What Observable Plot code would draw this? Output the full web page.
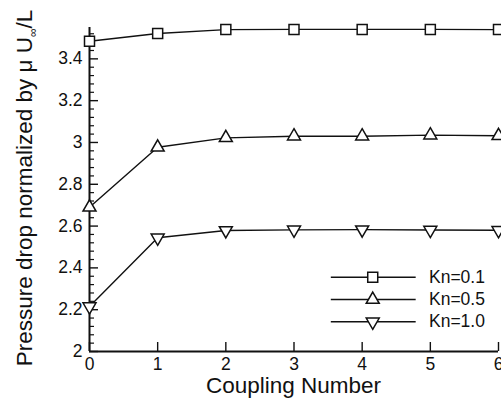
<!DOCTYPE html>
<html><head><meta charset="utf-8">
<script src="https://cdn.jsdelivr.net/npm/d3@7"></script>
<script src="https://cdn.jsdelivr.net/npm/@observablehq/plot@0.6"></script>
<style>
body{margin:0;background:#fff;}
#chart{position:relative;width:501px;height:400px;overflow:hidden;font-family:"Liberation Sans",Arial,Helvetica,sans-serif;}
</style>
</head><body><div id="chart"></div>
<script>
// ---- data ----
const coupling = [0, 1, 2, 3, 4, 5, 6];
const kn01 = [3.484, 3.521, 3.540, 3.541, 3.541, 3.541, 3.540];
const kn05 = [2.690, 2.977, 3.022, 3.030, 3.030, 3.035, 3.032];
const kn10 = [2.215, 2.544, 2.579, 2.582, 2.583, 2.581, 2.580];
const seriesNames = ["Kn=0.1", "Kn=0.5", "Kn=1.0"];
const xTicks = [0, 1, 2, 3, 4, 5, 6];
const yTicks = [2, 2.2, 2.4, 2.6, 2.8, 3, 3.2, 3.4];
const xLabel = "Coupling Number";

// ---- layout ----
const W = 501, H = 400, mL = 89, mR = 3, mT = 27, mB = 49;
const plotW = W - mL - mR, plotH = H - mT - mB;
const ink = "#111";

// open-marker symbols (sized from Plot's r)
const squareOpen = {
  draw(ctx, size) {
    const h = Math.sqrt(size) * 0.2821; // = r/2
    ctx.rect(-h, -h, 2 * h, 2 * h);
  }
};
const triangleUp = {
  draw(ctx, size) {
    const s = Math.sqrt(size) * 0.6824, t = s / 2, u = s * Math.sqrt(3) / 2;
    ctx.moveTo(0, -s); ctx.lineTo(u, t); ctx.lineTo(-u, t); ctx.closePath();
  }
};
const triangleDown = {
  draw(ctx, size) {
    const s = Math.sqrt(size) * 0.6824, t = s / 2, u = s * Math.sqrt(3) / 2;
    ctx.moveTo(0, s); ctx.lineTo(u, -t); ctx.lineTo(-u, -t); ctx.closePath();
  }
};
const symbols = [squareOpen, triangleUp, triangleDown];
const radii = [10, 6.2, 6.2];
const allSeries = [kn01, kn05, kn10];
const rows = allSeries.flatMap((vals, s) => coupling.map((c, i) => ({x: c, y: vals[i], s})));

const yMinor = d3.range(0, 39).map(k => +(2 + k * 0.04).toFixed(2)).filter(v => Math.abs(v * 5 - Math.round(v * 5)) > 1e-6);

// legend placement (data units)
const legend = seriesNames.map((name, i) => ({name, s: i, y: 2.355 - i * 0.1065, x1: 3.54, x2: 4.785, xm: 4.155, xt: 4.98}));

const marks = [
  Plot.ruleY([2], {stroke: ink, strokeWidth: 2}),
  Plot.ruleX([0], {stroke: ink, strokeWidth: 2}),
  Plot.tickY(yMinor, {y: d => d, stroke: ink, strokeWidth: 1.2, insetRight: plotW - 5}),
  Plot.tickY(yTicks, {y: d => d, stroke: ink, strokeWidth: 1.4, insetRight: plotW - 9}),
  Plot.tickX(xTicks, {x: d => d, stroke: ink, strokeWidth: 1.4, insetTop: plotH - 9}),
  Plot.axisY({ticks: yTicks, tickSize: 0, tickPadding: 7, fontSize: 17.5, label: null, tickFormat: d => String(d), fill: ink}),
  Plot.axisX({ticks: xTicks, tickSize: 0, tickPadding: 6, fontSize: 17.5, label: null, tickFormat: d => String(d), fill: ink}),
];
allSeries.forEach((vals, s) => {
  const d = rows.filter(r => r.s === s);
  marks.push(Plot.line(d, {x: "x", y: "y", stroke: ink, strokeWidth: 1.4}));
  marks.push(Plot.dot(d, {x: "x", y: "y", symbol: symbols[s], r: radii[s], stroke: ink, strokeWidth: 1.5, fill: "white"}));
});
legend.forEach(l => {
  marks.push(Plot.link([l], {x1: "x1", x2: "x2", y1: "y", y2: "y", stroke: ink, strokeWidth: 1.4}));
  marks.push(Plot.dot([l], {x: "xm", y: "y", symbol: symbols[l.s], r: radii[l.s], stroke: ink, strokeWidth: 1.5, fill: "white"}));
  marks.push(Plot.text([l], {x: "xt", y: "y", text: "name", textAnchor: "start", fontSize: 17.5, fill: ink}));
});

const chart = Plot.plot({
  width: W, height: H,
  marginLeft: mL, marginRight: mR, marginTop: mT, marginBottom: mB,
  x: {domain: [0, 6]},
  y: {domain: [2, 3.55]},
  style: {fontFamily: "Liberation Sans, Arial, Helvetica, sans-serif", background: "white", overflow: "hidden"},
  marks
});
document.getElementById("chart").appendChild(chart);

// axis titles
const svg = d3.select(chart);
svg.append("text")
  .attr("x", (mL + W - mR) / 2).attr("y", 393)
  .attr("text-anchor", "middle").attr("font-size", 22.5).attr("fill", ink)
  .text(xLabel);
const yt = svg.append("text")
  .attr("transform", "translate(32,188) rotate(-90)")
  .attr("text-anchor", "middle").attr("font-size", 22.5).attr("fill", ink);
yt.append("tspan").text("Pressure drop normalized by \u03bc U");
yt.append("tspan").attr("font-size", 12).attr("dy", 5).text("\u221e");
yt.append("tspan").attr("dy", -5).text("/L");
</script>
</body></html>
